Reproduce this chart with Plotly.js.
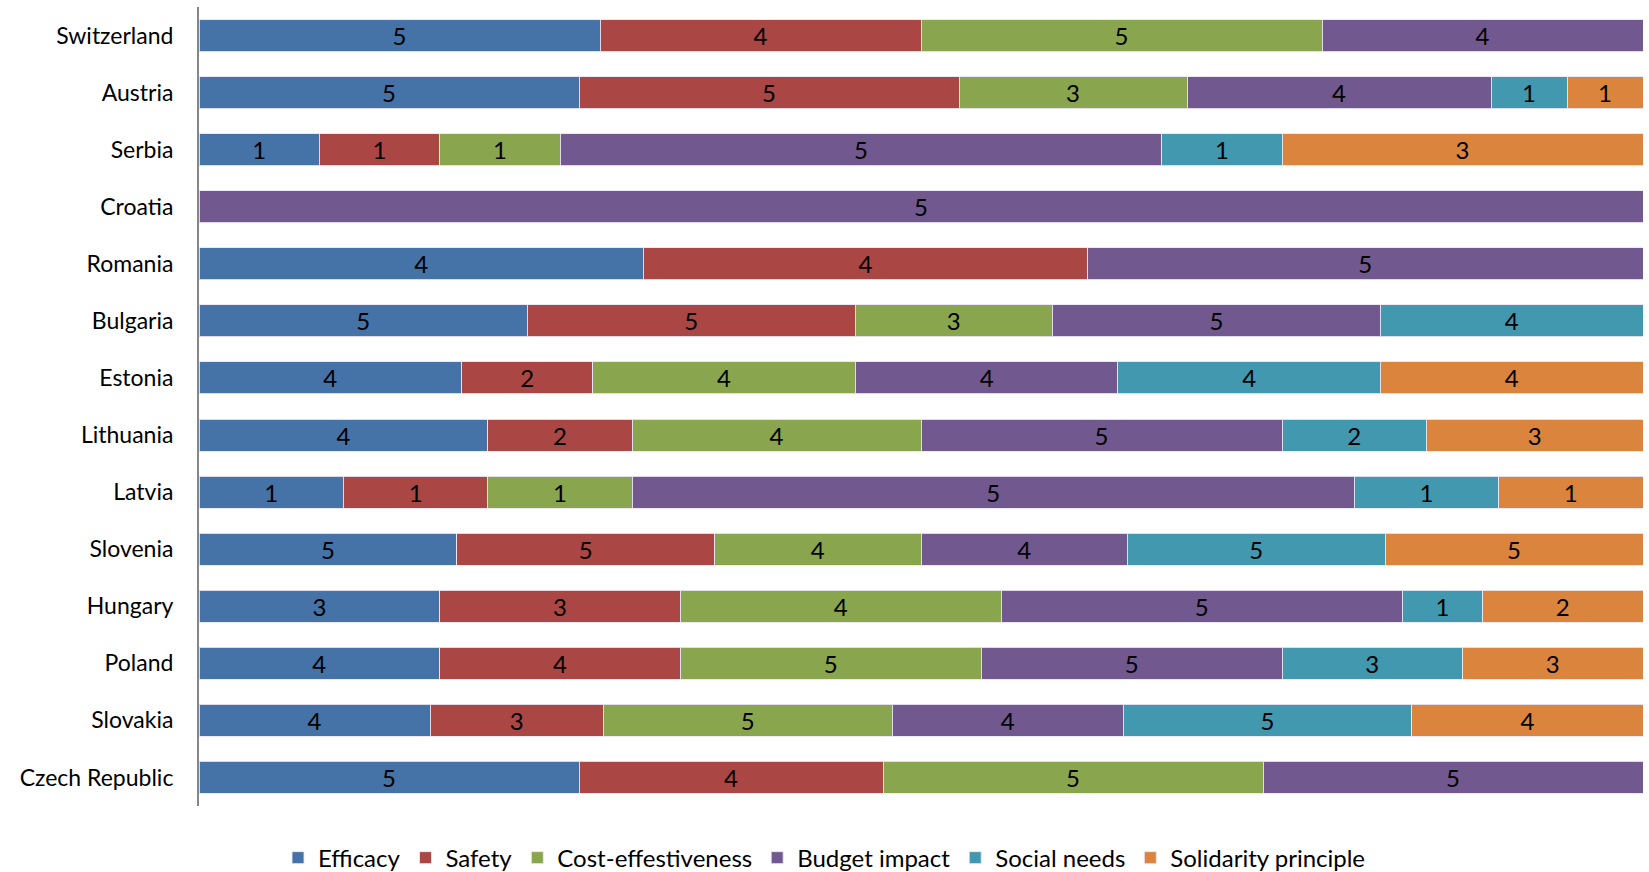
<!DOCTYPE html>
<html>
<head>
<meta charset="utf-8">
<script src="https://cdn.plot.ly/plotly-3.0.1.min.js"></script>
<style>html,body{margin:0;padding:0;background:#fff;}#chart{width:1649px;height:872px;}</style>
</head>
<body>
<div id="chart"></div>
<script>
const countries = ["Switzerland","Austria","Serbia","Croatia","Romania","Bulgaria","Estonia","Lithuania","Latvia","Slovenia","Hungary","Poland","Slovakia","Czech Republic"];
const efficacy   = [5,5,1,null,4,5,4,4,1,5,3,4,4,5];
const safety     = [4,5,1,null,4,5,2,2,1,5,3,4,3,4];
const costEff    = [5,3,1,null,null,3,4,4,1,4,4,5,5,5];
const budget     = [4,4,5,5,5,5,4,5,5,4,5,5,4,5];
const socialNeeds= [null,1,1,null,null,4,4,2,1,5,1,3,5,null];
const solidarity = [null,1,3,null,null,null,4,3,1,5,2,3,4,null];

const seriesNames = ["Efficacy","Safety","Cost-effestiveness","Budget impact","Social needs","Solidarity principle"];
const seriesData = [efficacy, safety, costEff, budget, socialNeeds, solidarity];
const colors = ["#4572A7","#AA4643","#89A54E","#71588F","#4198AF","#DB843D"];

const FONT = "Lato, 'Liberation Sans', sans-serif";

const traces = seriesData.map((vals, i) => ({
  type: "bar",
  orientation: "h",
  name: seriesNames[i],
  y: countries,
  x: vals,
  text: vals.map(v => v == null ? "" : String(v)),
  textposition: "inside",
  insidetextanchor: "middle",
  textangle: 0,
  constraintext: "none",
  textfont: {family: FONT, size: 24, color: "#000"},
  marker: {color: colors[i], line: {color: "rgba(235,230,245,0.9)", width: 1}},
  hoverinfo: "name+text"
}));

const layout = {
  width: 1649, height: 872,
  margin: {l: 199, r: 6, t: 7, b: 66},
  paper_bgcolor: "#fff", plot_bgcolor: "#fff",
  barmode: "stack",
  barnorm: "percent",
  bargap: 0.44,
  font: {family: FONT, size: 23, color: "#000"},
  xaxis: {visible: false, range: [0, 100], fixedrange: true},
  yaxis: {
    autorange: "reversed",
    showline: true, linecolor: "#868686", linewidth: 2,
    ticks: "", showgrid: false, zeroline: false,
    ticklabelstandoff: 19,
    tickfont: {family: FONT, size: 23, color: "#000"}
  },
  showlegend: true,
  legend: {
    orientation: "h",
    xref: "container", yref: "container",
    x: 0.5, xanchor: "center",
    y: 0.016, yanchor: "middle",
    traceorder: "normal",
    font: {family: FONT, size: 24, color: "#000"},
    itemwidth: 30,
    itemgap: 18
  }
};

Plotly.newPlot("chart", traces, layout, {displayModeBar: false, staticPlot: true});
</script>
</body>
</html>
